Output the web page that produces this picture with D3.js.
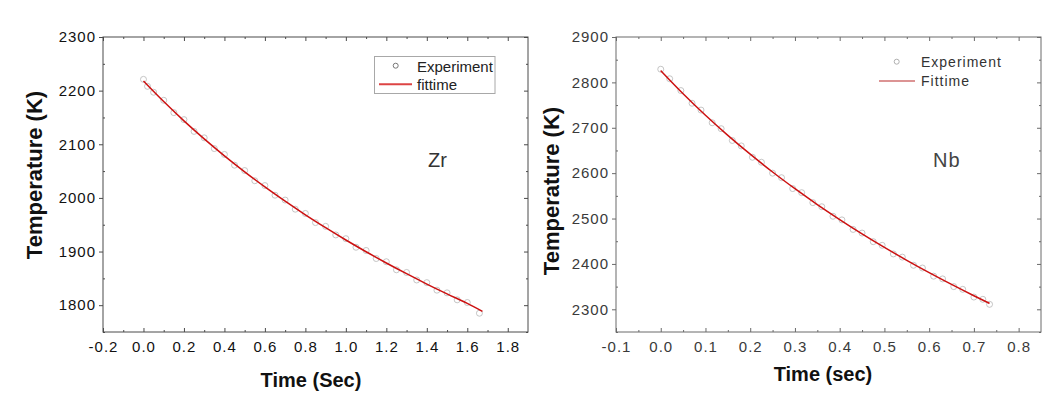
<!DOCTYPE html>
<html>
<head>
<meta charset="utf-8">
<script src="https://cdn.jsdelivr.net/npm/d3@7"></script>
<style>
  html, body { margin: 0; padding: 0; background: #fff; }
  svg { display: block; font-family: "Liberation Sans", Arial, sans-serif; }
</style>
</head>
<body>
<svg id="chart" width="1054" height="407"></svg>
<script>
// ---------- DATA ----------
const zrExpTime = [0, 0.02, 0.05, 0.10, 0.15, 0.20, 0.25, 0.30, 0.35, 0.40, 0.45, 0.50, 0.55, 0.60, 0.65, 0.70, 0.75, 0.80, 0.85, 0.90, 0.95, 1.00, 1.05, 1.10, 1.15, 1.20, 1.25, 1.30, 1.35, 1.40, 1.45, 1.50, 1.55, 1.60, 1.66];
const zrExpTemp = [2221, 2208, 2197, 2182, 2159, 2146, 2124, 2112, 2092, 2081, 2061, 2051, 2032, 2023, 2005, 1996, 1979, 1971, 1954, 1947, 1931, 1924, 1908, 1902, 1887, 1881, 1866, 1861, 1847, 1842, 1828, 1823, 1810, 1805, 1785];
const zrFitTime = [0, 0.1, 0.2, 0.3, 0.4, 0.5, 0.6, 0.7, 0.8, 0.9, 1.0, 1.1, 1.2, 1.3, 1.4, 1.5, 1.6, 1.675];
const zrFitTemp = [2218, 2179.6, 2143.7, 2110.1, 2078.5, 2048.7, 2020.5, 1993.9, 1968.5, 1944.5, 1921.5, 1899.6, 1878.7, 1858.7, 1839.4, 1821.0, 1803.3, 1788.5];
const zrXTicks = [-0.2, 0.0, 0.2, 0.4, 0.6, 0.8, 1.0, 1.2, 1.4, 1.6, 1.8];
const zrYTicks = [1800, 1900, 2000, 2100, 2200, 2300];

const nbExpTime = [0, 0.02, 0.045, 0.07, 0.09, 0.115, 0.135, 0.16, 0.18, 0.205, 0.225, 0.25, 0.27, 0.295, 0.315, 0.34, 0.36, 0.385, 0.405, 0.43, 0.45, 0.475, 0.495, 0.52, 0.54, 0.565, 0.585, 0.61, 0.63, 0.655, 0.675, 0.70, 0.72, 0.735];
const nbExpTemp = [2829, 2808, 2782, 2754, 2739, 2711, 2698, 2672, 2660, 2635, 2624, 2600, 2590, 2566, 2557, 2535, 2526, 2505, 2497, 2476, 2468, 2449, 2441, 2422, 2415, 2397, 2391, 2373, 2367, 2350, 2344, 2327, 2322, 2311];
const nbFitTime = [0, 0.05, 0.10, 0.15, 0.20, 0.25, 0.30, 0.35, 0.40, 0.45, 0.50, 0.55, 0.60, 0.65, 0.70, 0.735];
const nbFitTemp = [2826, 2775.1, 2727.6, 2683.3, 2641.8, 2602.5, 2565.7, 2530.8, 2497.8, 2466.3, 2436.4, 2408.0, 2380.8, 2354.8, 2329.9, 2313];
const nbXTicks = [-0.1, 0.0, 0.1, 0.2, 0.3, 0.4, 0.5, 0.6, 0.7, 0.8];
const nbYTicks = [2300, 2400, 2500, 2600, 2700, 2800, 2900];

// ---------- DRAW ----------
const svg = d3.select("#chart");
const fmtX = d => d.toFixed(1);
const fmtY = d => String(d);

function panel(cfg) {
  const g = svg.append("g");
  const x = d3.scaleLinear().domain(cfg.xDomain).range([cfg.left, cfg.right]);
  const y = d3.scaleLinear().domain(cfg.yDomain).range([cfg.bottom, cfg.top]);

  const style = sel => {
    sel.select(".domain").remove();
    sel.selectAll(".tick line").attr("stroke", cfg.axisColor);
    sel.selectAll(".tick text")
      .attr("fill", cfg.labelColor)
      .style("font-size", "15px")
      .style("letter-spacing", "1px")
      .style("font-family", "'Liberation Sans', Arial, sans-serif");
  };

  // bottom
  g.append("g").attr("transform", `translate(0,${cfg.bottom})`)
    .call(d3.axisBottom(x).tickValues(cfg.xMinor).tickSize(-2).tickFormat("")).call(style);
  g.append("g").attr("transform", `translate(0,${cfg.bottom})`)
    .call(d3.axisBottom(x).tickValues(cfg.xTicks).tickSizeInner(-4).tickSizeOuter(0)
      .tickPadding(9.5).tickFormat(fmtX)).call(style);
  // top
  g.append("g").attr("transform", `translate(0,${cfg.top})`)
    .call(d3.axisTop(x).tickValues(cfg.xMinor).tickSize(-2).tickFormat("")).call(style);
  g.append("g").attr("transform", `translate(0,${cfg.top})`)
    .call(d3.axisTop(x).tickValues(cfg.xTicks).tickSize(-4).tickFormat("")).call(style);
  // left
  g.append("g").attr("transform", `translate(${cfg.left},0)`)
    .call(d3.axisLeft(y).tickValues(cfg.yMinor).tickSize(-2).tickFormat("")).call(style);
  g.append("g").attr("transform", `translate(${cfg.left},0)`)
    .call(d3.axisLeft(y).tickValues(cfg.yTicks).tickSizeInner(4).tickSizeOuter(0)
      .tickPadding(3).tickFormat(fmtY)).call(style);
  // right
  g.append("g").attr("transform", `translate(${cfg.right},0)`)
    .call(d3.axisRight(y).tickValues(cfg.yMinor).tickSize(-2).tickFormat("")).call(style);
  g.append("g").attr("transform", `translate(${cfg.right},0)`)
    .call(d3.axisRight(y).tickValues(cfg.yTicks).tickSize(-4).tickFormat("")).call(style);

  // frame
  g.append("rect")
    .attr("x", cfg.left).attr("y", cfg.top)
    .attr("width", cfg.right - cfg.left).attr("height", cfg.bottom - cfg.top)
    .attr("fill", "none").attr("stroke", cfg.axisColor).attr("stroke-width", 1);

  // experiment circles
  const exp = cfg.expTime.map((t, i) => [t, cfg.expTemp[i]]);
  g.append("g").selectAll("circle").data(exp).join("circle")
    .attr("cx", d => x(d[0])).attr("cy", d => y(d[1])).attr("r", 3)
    .attr("fill", "none").attr("stroke", "#b8b8b8").attr("stroke-width", 0.8);

  // fit line
  const fit = cfg.fitTime.map((t, i) => [t, cfg.fitTemp[i]]);
  g.append("path").datum(fit)
    .attr("d", d3.line().x(d => x(d[0])).y(d => y(d[1])).curve(d3.curveMonotoneX))
    .attr("fill", "none").attr("stroke", "#cc1111").attr("stroke-width", 1.5);

  // axis titles
  g.append("text")
    .attr("transform", `translate(${cfg.yTitleX},${cfg.yTitleY}) rotate(-90)`)
    .attr("text-anchor", "middle").attr("font-size", 22).attr("font-weight", "bold")
    .attr("fill", "#111").text("Temperature (K)");
  g.append("text")
    .attr("x", cfg.xTitleX).attr("y", cfg.xTitleY)
    .attr("text-anchor", "middle").attr("font-size", 20).attr("font-weight", "bold")
    .attr("fill", "#111").text(cfg.xTitle);
  return g;
}

function range(a, b, s) { const out = []; for (let v = a; v <= b + 1e-9; v += s) out.push(+v.toFixed(4)); return out; }

const gZr = panel({
  left: 103, right: 528, top: 37, bottom: 332,
  xDomain: [-0.2, 1.9], yDomain: [1750, 2300],
  xTicks: zrXTicks, yTicks: zrYTicks,
  xMinor: range(-0.1, 1.8, 0.2), yMinor: range(1750, 2250, 100),
  axisColor: "#4a4a4a", labelColor: "#111",
  expTime: zrExpTime, expTemp: zrExpTemp, fitTime: zrFitTime, fitTemp: zrFitTemp,
  yTitleX: 42, yTitleY: 175, xTitleX: 311, xTitleY: 387, xTitle: "Time (Sec)"
});

const gNb = panel({
  left: 616, right: 1041, top: 37, bottom: 332,
  xDomain: [-0.1, 0.85], yDomain: [2250, 2900],
  xTicks: nbXTicks, yTicks: nbYTicks,
  xMinor: range(-0.05, 0.8, 0.1), yMinor: range(2250, 2850, 100),
  axisColor: "#6a6a6a", labelColor: "#3a3a3a",
  expTime: nbExpTime, expTemp: nbExpTemp, fitTime: nbFitTime, fitTemp: nbFitTemp,
  yTitleX: 559, yTitleY: 191, xTitleX: 823, xTitleY: 381, xTitle: "Time (sec)"
});

// legend Zr (boxed)
gZr.append("rect").attr("x", 374.5).attr("y", 56.5).attr("width", 120.5).attr("height", 37)
  .attr("fill", "#fff").attr("stroke", "#a8a8a8").attr("stroke-width", 1);
gZr.append("circle").attr("cx", 395.7).attr("cy", 65.7).attr("r", 2.5)
  .attr("fill", "none").attr("stroke", "#777").attr("stroke-width", 1);
gZr.append("line").attr("x1", 379).attr("x2", 412).attr("y1", 84.3).attr("y2", 84.3)
  .attr("stroke", "#dd4444").attr("stroke-width", 2);
gZr.append("text").attr("x", 417).attr("y", 71.5).attr("font-size", 15).attr("fill", "#222").text("Experiment");
gZr.append("text").attr("x", 417).attr("y", 89.5).attr("font-size", 15).attr("fill", "#222").text("fittime");
gZr.append("text").attr("x", 428).attr("y", 167).attr("font-size", 20).attr("fill", "#333").text("Zr");

// legend Nb (no box)
gNb.append("circle").attr("cx", 896.7).attr("cy", 61.7).attr("r", 2.5)
  .attr("fill", "none").attr("stroke", "#b0b0b0").attr("stroke-width", 1);
gNb.append("line").attr("x1", 879).attr("x2", 915).attr("y1", 81).attr("y2", 81)
  .attr("stroke", "#d07070").attr("stroke-width", 1.5);
gNb.append("text").attr("x", 921).attr("y", 66.7).attr("font-size", 14).attr("letter-spacing", 1)
  .attr("fill", "#333").text("Experiment");
gNb.append("text").attr("x", 921).attr("y", 86).attr("font-size", 14).attr("letter-spacing", 1)
  .attr("fill", "#333").text("Fittime");
gNb.append("text").attr("x", 933).attr("y", 167).attr("font-size", 20).attr("letter-spacing", 1)
  .attr("fill", "#444").text("Nb");
</script>
</body>
</html>
